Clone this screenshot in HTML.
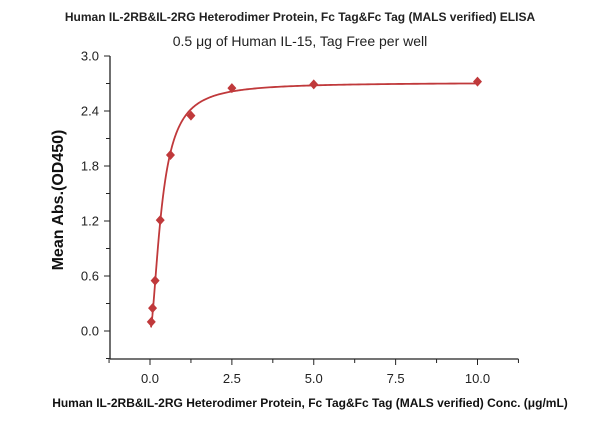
<!DOCTYPE html>
<html><head><meta charset="utf-8"><style>
body{margin:0;background:#fff}
svg{display:block;font-family:"Liberation Sans","DejaVu Sans",sans-serif}
</style></head><body>
<svg id="chart" width="600" height="421" viewBox="0 0 600 421">
<text x="300" y="21" text-anchor="middle" font-size="12" font-weight="bold" fill="#222">Human IL-2RB&amp;IL-2RG Heterodimer Protein, Fc Tag&amp;Fc Tag (MALS verified) ELISA</text>
<text x="300" y="46" text-anchor="middle" font-size="14" fill="#222">0.5 μg of Human IL-15, Tag Free per well</text>
<text transform="translate(63,200) rotate(-90)" text-anchor="middle" font-size="16" font-weight="bold" fill="#111">Mean Abs.(OD450)</text>
<text x="310" y="407" text-anchor="middle" font-size="12" font-weight="bold" fill="#111">Human IL-2RB&amp;IL-2RG Heterodimer Protein, Fc Tag&amp;Fc Tag (MALS verified) Conc. (μg/mL)</text>
<g id="axes"></g><g id="plot"></g>
</svg>
<script>
const xValues=[0.039,0.078,0.156,0.3125,0.625,1.25,2.5,5,10];
const yValues=[0.10,0.25,0.55,1.21,1.92,2.35,2.65,2.69,2.72];
const xTicks=["0.0","2.5","5.0","7.5","10.0"];
const yTicks=["0.0","0.6","1.2","1.8","2.4","3.0"];
const fitTop=2.71, fitEC50=0.36, fitHill=1.7;
const NS="http://www.w3.org/2000/svg";
const X=v=>150+(v)*32.75;
const Y=v=>331-v*91.67;
function mk(t,a,p){const e=document.createElementNS(NS,t);for(const k in a)e.setAttribute(k,a[k]);p.appendChild(e);return e;}
const ax=document.getElementById('axes'),pl=document.getElementById('plot');
const yl=mk('line',{x1:110,y1:Y(3),x2:110,y2:359,stroke:'#222','stroke-width':1.3},ax);


const xl=mk('line',{x1:110,y1:359,x2:X(11.25),y2:359,stroke:'#222','stroke-width':1.3},ax);


yTicks.forEach((t,i)=>{const v=parseFloat(t);
 mk('line',{x1:104,y1:Y(v),x2:110,y2:Y(v),stroke:'#222'},ax);
 if(i<yTicks.length-1)mk('line',{x1:106,y1:Y(v+0.3),x2:110,y2:Y(v+0.3),stroke:'#222'},ax);
 const tx=mk('text',{x:99,y:Y(v)+4.5,'text-anchor':'end','font-size':13,fill:'#222'},ax);tx.textContent=t;
 
 });
mk('line',{x1:106,y1:Y(-0.3),x2:110,y2:Y(-0.3),stroke:'#222'},ax);
xTicks.forEach(t=>{const v=parseFloat(t);
 mk('line',{x1:X(v),y1:359,x2:X(v),y2:365,stroke:'#222'},ax);
 const tx=mk('text',{x:X(v),y:383,'text-anchor':'middle','font-size':13,fill:'#222'},ax);tx.textContent=t;
 
 });
[-1.25,1.25,3.75,6.25,8.75,11.25].forEach(v=>mk('line',{x1:X(v),y1:359,x2:X(v),y2:363,stroke:'#222'},ax));
let d='';for(let i=0;i<=400;i++){const x=0.03*Math.pow(10/0.03,i/400);const y=fitTop/(1+Math.pow(fitEC50/x,fitHill));d+=(i?'L':'M')+X(x).toFixed(2)+','+Y(y).toFixed(2);}
const c=mk('path',{d:d,fill:'none',stroke:'#c0393b','stroke-width':1.8},pl);


xValues.forEach((x,i)=>{const cx=X(x),cy=Y(yValues[i]);
 const p=mk('path',{d:`M${cx},${cy-5}L${cx+4.5},${cy}L${cx},${cy+5}L${cx-4.5},${cy}Z`,fill:'#c0393b'},pl);
 
 });
</script>
</body></html>
